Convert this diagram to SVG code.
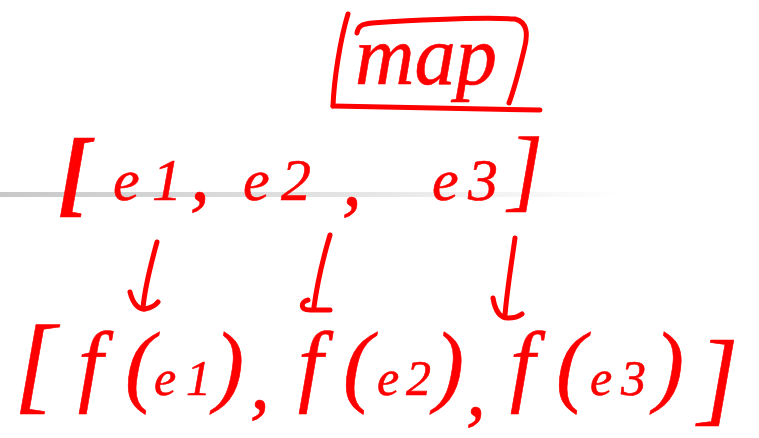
<svg xmlns="http://www.w3.org/2000/svg" width="759" height="438" viewBox="0 0 759 438">
  <style>
    .hw { font-family: "Liberation Serif", "DejaVu Serif", serif; font-style: italic; fill: #ff0000; stroke: #ff0000; stroke-width: 0.6; stroke-linejoin: round; }
    .ink { fill: none; stroke: #ff0000; stroke-width: 5; stroke-linecap: round; stroke-linejoin: round; }
  </style>
  <defs>
    <linearGradient id="rule" x1="0" y1="0" x2="1" y2="0">
      <stop offset="0" stop-color="#c8c8c8"/>
      <stop offset="0.6" stop-color="#e6e6e6"/>
      <stop offset="1" stop-color="#ffffff"/>
    </linearGradient>
  </defs>
  <rect width="759" height="438" fill="#ffffff"/>
  <rect x="0" y="192" width="620" height="5" fill="url(#rule)"/>

  <g id="node-map">
    <path class="ink" d="M348 14 C340 40 334 80 333 106" stroke-width="9"/>
    <path class="ink" d="M333 106 L540 110"/>
    <path class="ink" d="M357 33 C358 26 362 24 372 23 C420 20 480 17 515 19 C528 22 528 35 524 50 C518 75 512 95 509 103"/>
    <text class="hw" x="355" y="84" font-size="85" textLength="142" lengthAdjust="spacingAndGlyphs">map</text>
  </g>

  <g id="node-input">
    <text class="hw" x="58" y="204" font-size="95" font-weight="bold">[</text>
    <g id="node-e1">
      <text class="hw" y="200" font-size="60"><tspan x="113">e</tspan><tspan x="152">1</tspan><tspan x="190" font-size="80">,</tspan></text>
    </g>
    <g id="node-e2">
      <text class="hw" y="200" font-size="60"><tspan x="243">e</tspan><tspan x="281">2</tspan></text>
      <text class="hw" x="342" y="205" font-size="80">,</text>
    </g>
    <g id="node-e3">
      <text class="hw" y="200" font-size="60"><tspan x="432">e</tspan><tspan x="468">3</tspan></text>
    </g>
    <text class="hw" x="508" y="200" font-size="90">]</text>
  </g>

  <g id="connectors">
    <path class="ink" d="M157 242 C152 260 145 285 143 308"/>
    <path class="ink" d="M130 292 C133 305 140 310 145 309 C150 308 155 306 158 302"/>
    <path class="ink" d="M330 235 C324 255 317 285 314 307"/>
    <path class="ink" d="M308 300 C300 302 300 310 310 310 L330 310"/>
    <path class="ink" d="M515 238 C512 260 507 290 505 315"/>
    <path class="ink" d="M493 298 C495 310 500 318 508 318 C514 318 518 317 522 314"/>
  </g>

  <g id="node-output">
    <text class="hw" x="14" y="400" font-size="108">[</text>
    <g id="node-fe1">
      <text class="hw" y="395" font-size="90"><tspan x="78">f</tspan><tspan x="125">(</tspan><tspan x="154" font-size="50">e</tspan><tspan x="186" font-size="50">1</tspan><tspan x="214">)</tspan></text>
      <text class="hw" x="250" y="408" font-size="80">,</text>
    </g>
    <g id="node-fe2">
      <text class="hw" y="395" font-size="90"><tspan x="298">f</tspan><tspan x="343">(</tspan><tspan x="377" font-size="50">e</tspan><tspan x="406" font-size="50">2</tspan><tspan x="434">)</tspan></text>
      <text class="hw" x="466" y="415" font-size="80">,</text>
    </g>
    <g id="node-fe3">
      <text class="hw" y="395" font-size="90"><tspan x="510">f</tspan><tspan x="556">(</tspan><tspan x="590" font-size="50">e</tspan><tspan x="621" font-size="50">3</tspan><tspan x="654">)</tspan></text>
    </g>
    <text class="hw" x="698" y="412" font-size="104">]</text>
  </g>
</svg>
